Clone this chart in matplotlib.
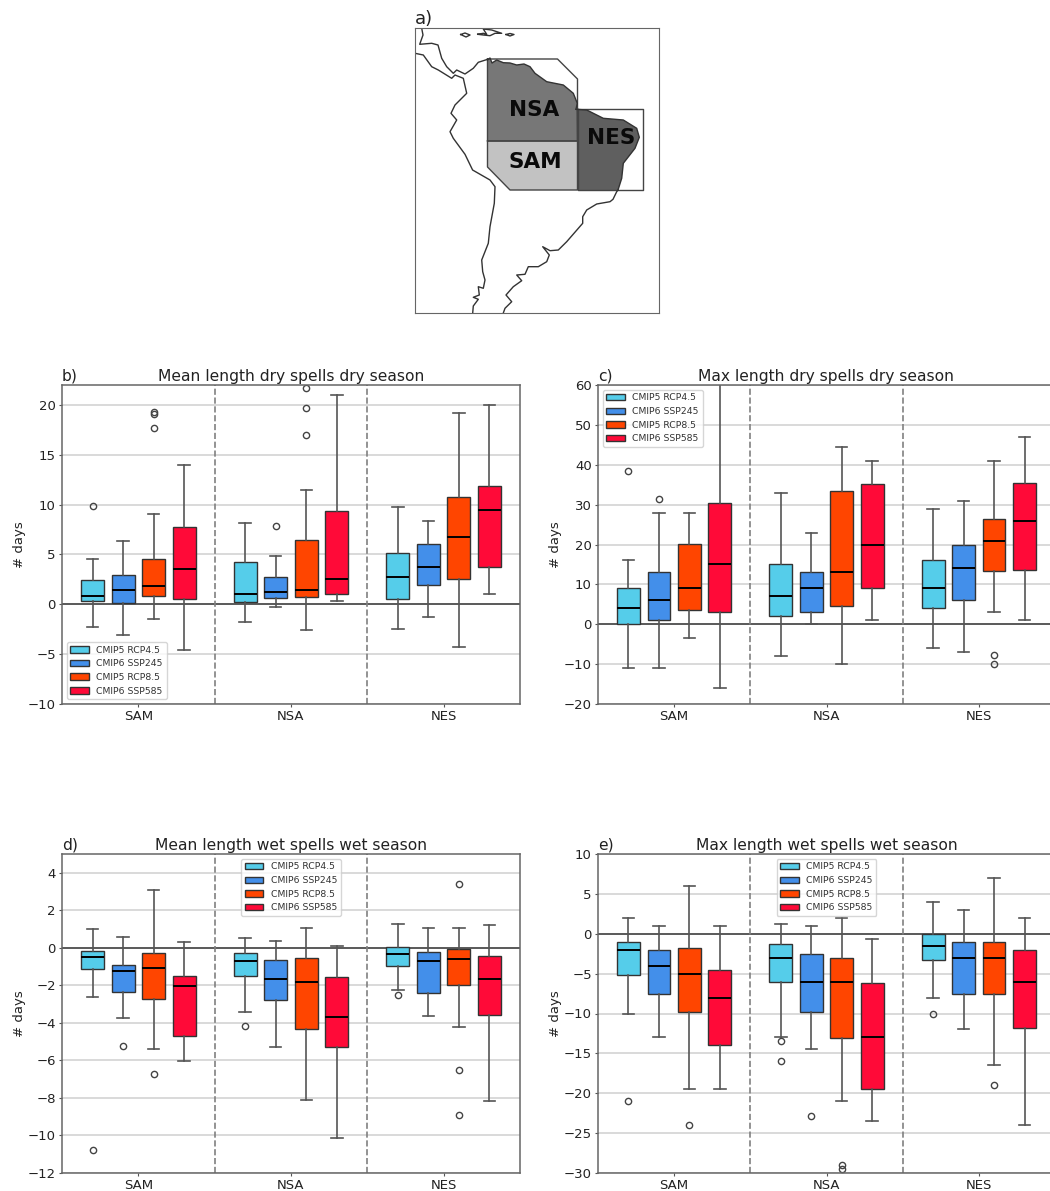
#!/usr/bin/env python3
import matplotlib
matplotlib.use("Agg")
import matplotlib.pyplot as plt
from matplotlib.patches import Patch

regions = ["SAM", "NSA", "NES"]
scenarios = ["CMIP5 RCP4.5", "CMIP6 SSP245", "CMIP5 RCP8.5", "CMIP6 SSP585"]
colors = ["#55CDEA", "#438FEA", "#FF4500", "#FF0A38"]
offsets = [-0.3, -0.1, 0.1, 0.3]

# every list: SAM x4, NSA x4, NES x4
b_lo = [-2.3, -3.1, -1.45, -4.55, -1.75, -0.3, -2.55, 0.3, -2.5, -1.3, -4.25, 1.0]
b_q1 = [0.3, 0.1, 0.8, 0.55, 0.2, 0.6, 0.7, 1.0, 0.5, 1.9, 2.5, 3.7]
b_med = [0.85, 1.45, 1.85, 3.55, 1.05, 1.2, 1.4, 2.55, 2.75, 3.75, 6.8, 9.45]
b_q3 = [2.45, 2.9, 4.5, 7.75, 4.25, 2.7, 6.45, 9.4, 5.1, 6.05, 10.75, 11.9]
b_hi = [4.5, 6.4, 9.1, 14, 8.2, 4.85, 11.5, 21, 9.8, 8.4, 19.2, 20]
b_fliers = [[9.9], [], [17.7, 19.1, 19.3], [], [], [7.85], [16.95, 19.65, 21.7], [], [], [], [], []]

c_lo = [-11, -11, -3.5, -16, -8, 0, -10, 1, -6, -7, 3, 1]
c_q1 = [0, 1, 3.6, 3, 2, 3, 4.5, 9, 4, 6, 13.4, 13.7]
c_med = [4, 6, 9, 15, 7, 9, 13, 20, 9, 14, 21, 26]
c_q3 = [9, 13, 20.2, 30.4, 15.2, 13, 33.5, 35.2, 16, 20, 26.5, 35.4]
c_hi = [16, 28, 28, 62, 33, 23, 44.5, 41, 29, 31, 41, 47]
c_fliers = [[38.5], [31.5], [], [], [], [], [], [], [], [], [-7.6, -10], []]

d_lo = [-2.6, -3.75, -5.38, -6.05, -3.4, -5.28, -8.1, -10.13, -2.27, -3.63, -4.23, -8.17]
d_q1 = [-1.15, -2.38, -2.73, -4.7, -1.52, -2.78, -4.3, -5.27, -0.95, -2.42, -2.0, -3.6]
d_med = [-0.48, -1.22, -1.05, -2.05, -0.68, -1.65, -1.8, -3.68, -0.33, -0.68, -0.6, -1.65]
d_q3 = [-0.17, -0.92, -0.27, -1.5, -0.25, -0.63, -0.55, -1.57, 0.03, -0.2, -0.07, -0.42]
d_hi = [1.0, 0.58, 3.1, 0.33, 0.55, 0.37, 1.08, 0.12, 1.27, 1.05, 1.05, 1.22]
d_fliers = [[-10.75], [-5.25], [-6.75], [], [-4.17], [], [], [], [-2.5], [], [3.38, -6.5, -8.93], []]

e_lo = [-10, -13, -19.5, -19.5, -13, -14.5, -21, -23.5, -8, -12, -16.5, -24]
e_q1 = [-5.2, -7.5, -9.75, -14, -6, -9.75, -13.1, -19.5, -3.3, -7.5, -7.5, -11.8]
e_med = [-2, -4, -5, -8, -3, -6, -6, -13, -1.5, -3, -3, -6]
e_q3 = [-1, -2, -1.8, -4.5, -1.3, -2.5, -3.1, -6.2, 0, -1, -1, -2]
e_hi = [2, 1, 6, 1, 1.25, 1, 2, -0.7, 4, 3, 7, 2]
e_fliers = [[-21], [], [-24], [], [-13.5, -16], [-22.8], [-29, -29.5], [], [-10], [], [-19], []]

# map outlines, traced in picture coordinates
central_america = [(421.7, 28.3), (423, 35), (419.7, 44.3), (431.7, 43.3), (438, 45), (441.7, 58.3),
                   (446.7, 66.7), (453.3, 73.3), (456.7, 70), (465, 74), (473.3, 68.3), (478.3, 62.3),
                   (487.7, 59.3)]
pacific_coast = [(415, 53.3), (423.3, 55), (431.7, 66.7), (438.3, 70), (451.7, 78.3), (455, 75),
                 (463.3, 78.3), (466.7, 93.3), (455, 105), (451, 113.3), (456.7, 120), (450, 131.7),
                 (453.3, 138.3), (465, 154.3), (472.6, 170), (490, 180), (495, 186.7), (494.3, 203.3),
                 (490, 226.7), (488.3, 243.3), (481.7, 260), (482.7, 271.7), (485, 280), (483.3, 288.3),
                 (478.3, 286.7), (479.3, 295), (473.3, 297.3), (478.3, 299.3), (473.3, 306), (472.7, 313)]
north_coast = [(487.5, 60), (490, 58), (492, 63), (496.7, 60), (503.3, 62.7), (510, 63), (516.7, 65),
               (524, 64), (530, 66.7), (535, 73.3), (546.7, 81.7), (563.3, 85), (573.3, 93.3),
               (577.3, 103.3), (576, 109.3)]
ne_coast = [(576, 109.3), (586.7, 110), (603.3, 118.3), (623.3, 120), (636.7, 128.3), (639.3, 137.3),
            (635, 148.3), (623.3, 163.3), (621.7, 178.3), (618, 190)]
atlantic_coast = [(618, 190), (616.7, 191.7), (613, 199.3), (610, 201.7), (596.7, 204), (586.7, 210),
                  (582.7, 216.7), (582.7, 223.3), (566.7, 241.7), (558.3, 250), (550, 250.7),
                  (542.7, 246.7), (549.3, 255), (546.7, 261.7), (538.3, 266.7), (528.3, 266.7),
                  (525, 274.3), (516.7, 275), (521.7, 280.7), (513.3, 286.7), (506, 295), (511.7, 301.7),
                  (505, 308.3), (503.3, 313)]
islands = [[(460.7, 34.5), (465, 33), (470, 35), (466, 37), (460.7, 34.5)],
           [(477.7, 34.3), (483.3, 33.3), (486.7, 34.3), (483.3, 29), (491.7, 30), (501.7, 33.3),
            (495, 33.3), (490, 35.7), (483.3, 35), (477.7, 34.3)],
           [(506, 34.5), (510, 33.5), (514, 34.5), (510, 36), (506, 34.5)]]
nsa_outline = [(487.5, 59), (557.5, 59), (577.5, 79), (577.5, 141), (487.5, 141), (487.5, 59)]
nes_outline = [(577.5, 109), (642.7, 109), (642.7, 190), (577.5, 190), (577.5, 109)]
sam_outline = [(487.5, 141), (577.5, 141), (577.5, 190), (510, 190), (487.5, 167), (487.5, 141)]
nsa_fill = north_coast[:-1] + [(577.5, 141), (487.5, 141)]
nes_fill = ne_coast + [(577.5, 190)]

W, H = 1050.0, 1191.0


def axes_px(left, top, right, bottom):
    return [left / W, 1 - bottom / H, (right - left) / W, (bottom - top) / H]


def box_panel(rect, label, title, ylim, yticks, lo, q1, med, q3, hi, fliers, loc):
    ax = fig.add_axes(axes_px(*rect))
    for i in range(12):
        stats = [dict(whislo=lo[i], q1=q1[i], med=med[i], q3=q3[i], whishi=hi[i], fliers=fliers[i])]
        ax.bxp(stats, positions=[i // 4 + offsets[i % 4]], widths=0.15, patch_artist=True,
               manage_ticks=False, zorder=2,
               boxprops=dict(facecolor=colors[i % 4], edgecolor="#333333", linewidth=1),
               medianprops=dict(color="black", linewidth=1.4),
               whiskerprops=dict(color="#555555", linewidth=1.2),
               capprops=dict(color="#555555", linewidth=1.2),
               flierprops=dict(marker="o", markersize=4.5, markeredgecolor="#444444", markeredgewidth=1))
    ax.axhline(0, color="#444444", linewidth=1.2, zorder=1.5)
    ax.axvline(0.5, color="gray", linestyle="--", linewidth=1.2, zorder=1.5)
    ax.axvline(1.5, color="gray", linestyle="--", linewidth=1.2, zorder=1.5)
    ax.set_xlim(-0.5, 2.5)
    ax.set_ylim(*ylim)
    ax.set_yticks(yticks)
    ax.set_xticks([0, 1, 2])
    ax.set_xticklabels(regions)
    ax.tick_params(labelsize=9.5, color="#555555", labelcolor="#222222", length=2.5, pad=2)
    ax.grid(axis="y", color="lightgray", linewidth=1.2)
    ax.set_axisbelow(True)
    ax.set_ylabel("# days", fontsize=9.5, color="#222222", labelpad=1)
    ax.set_title(title, fontsize=11.2, color="#222222", pad=3)
    ax.set_title(label, loc="left", fontsize=11.2, color="#222222", pad=3)
    for s in ax.spines.values():
        s.set_color("#666666")
        s.set_linewidth(1.1)
    handles = [Patch(facecolor=c, edgecolor="#333333", label=n) for c, n in zip(colors, scenarios)]
    ax.legend(handles=handles, loc=loc, fontsize=6.7, labelcolor="#333333", framealpha=0.8)
    return ax


fig = plt.figure(figsize=(10.5, 11.91), dpi=100)

ax = fig.add_axes(axes_px(415, 28, 659, 313))
ax.fill(*zip(*nsa_fill), color="#777777", linewidth=0)
ax.fill(*zip(*nes_fill), color="#5f5f5f", linewidth=0)
ax.fill(*zip(*sam_outline), color="#c2c2c2", linewidth=0)
for line in [nsa_outline, nes_outline, sam_outline]:
    ax.plot(*zip(*line), color="#444444", linewidth=1)
for line in [central_america, pacific_coast, north_coast, ne_coast, atlantic_coast] + islands:
    ax.plot(*zip(*line), color="#333333", linewidth=1)
ax.text(534, 110, "NSA", fontsize=15.5, fontweight="bold", ha="center", va="center", color="#0a0a0a")
ax.text(535, 162, "SAM", fontsize=15.5, fontweight="bold", ha="center", va="center", color="#0a0a0a")
ax.text(611, 138, "NES", fontsize=15.5, fontweight="bold", ha="center", va="center", color="#0a0a0a")
ax.set_xlim(415, 659)
ax.set_ylim(313, 28)
ax.set_xticks([])
ax.set_yticks([])
ax.set_title("a)", loc="left", fontsize=13, color="#222222", pad=3)
for s in ax.spines.values():
    s.set_color("#666666")

box_panel((62, 385, 520, 704), "b)", "Mean length dry spells dry season", (-10, 22),
          [-10, -5, 0, 5, 10, 15, 20], b_lo, b_q1, b_med, b_q3, b_hi, b_fliers, "lower left")
box_panel((598, 385, 1055, 704), "c)", "Max length dry spells dry season", (-20, 60),
          [-20, -10, 0, 10, 20, 30, 40, 50, 60], c_lo, c_q1, c_med, c_q3, c_hi, c_fliers, "upper left")
box_panel((62, 854, 520, 1173), "d)", "Mean length wet spells wet season", (-12, 5),
          [-12, -10, -8, -6, -4, -2, 0, 2, 4], d_lo, d_q1, d_med, d_q3, d_hi, d_fliers, "upper center")
box_panel((598, 854, 1055, 1173), "e)", "Max length wet spells wet season", (-30, 10),
          [-30, -25, -20, -15, -10, -5, 0, 5, 10], e_lo, e_q1, e_med, e_q3, e_hi, e_fliers, "upper center")

fig.savefig("out.png", dpi=100)
